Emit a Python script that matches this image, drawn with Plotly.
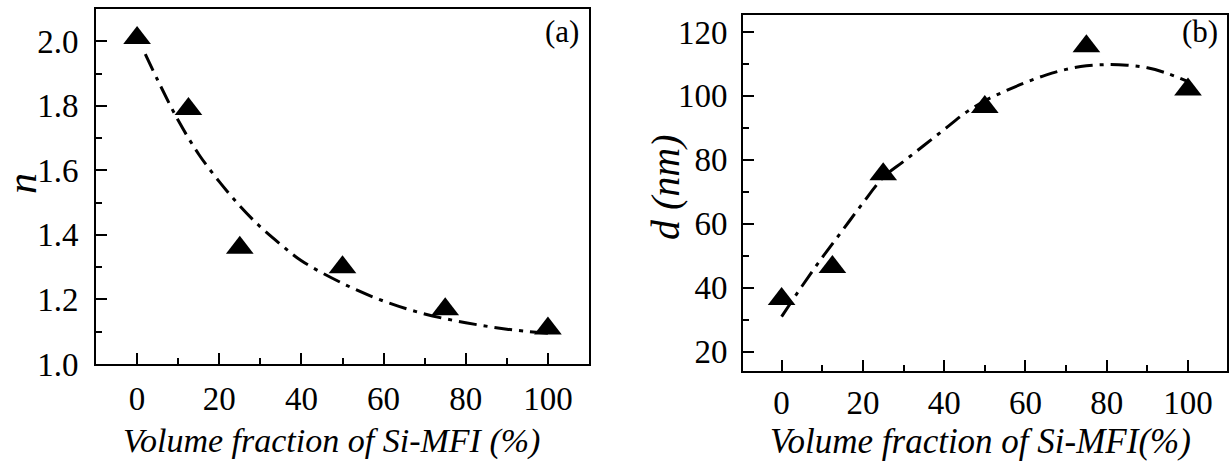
import plotly.graph_objects as go

# ---- data ----
frac_pts = [0, 12.5, 25, 50, 75, 100]
n_vals = [2.01, 1.79, 1.36, 1.30, 1.17, 1.11]
d_vals = [36.5, 46.5, 75.5, 96.5, 115.5, 102.0]

fit_a_x = [2, 5, 10, 15, 20, 25, 30, 35, 40, 50, 60, 70, 80, 90, 100]
fit_a_y = [1.96, 1.88, 1.755, 1.65, 1.565, 1.49, 1.425, 1.37, 1.32, 1.25, 1.195, 1.155, 1.128, 1.108, 1.095]

fit_b_x = [0, 5, 10, 15, 20, 25, 30, 35, 40, 45, 50, 55, 60, 65, 70, 75, 80, 85, 90, 95, 100]
fit_b_y = [31, 40.5, 49.5, 58, 66.5, 74.5, 79.5, 84.5, 89.5, 94.5, 98.5, 101.5, 104.2, 106.5, 108.3, 109.4, 109.8, 109.6, 108.8, 107.0, 104.5]

x_ticks = [0, 20, 40, 60, 80, 100]
n_ticks = [1.0, 1.2, 1.4, 1.6, 1.8, 2.0]
d_ticks = [20, 40, 60, 80, 100, 120]

W, H = 1229, 461
SERIF = "Liberation Serif"
DASH = "18px,7px,4px,7px"

fig = go.Figure()

fig.add_trace(go.Scatter(x=fit_a_x, y=fit_a_y, mode="lines", line=dict(color="black", width=3, dash=DASH, shape="spline"),
                         xaxis="x", yaxis="y", showlegend=False, hoverinfo="skip"))
fig.add_trace(go.Scatter(x=frac_pts, y=n_vals, mode="markers",
                         marker=dict(symbol="triangle-up", size=24, color="black"),
                         xaxis="x", yaxis="y", showlegend=False))
fig.add_trace(go.Scatter(x=fit_b_x, y=fit_b_y, mode="lines", line=dict(color="black", width=3, dash=DASH, shape="spline"),
                         xaxis="x2", yaxis="y2", showlegend=False, hoverinfo="skip"))
fig.add_trace(go.Scatter(x=frac_pts, y=d_vals, mode="markers",
                         marker=dict(symbol="triangle-up", size=24, color="black"),
                         xaxis="x2", yaxis="y2", showlegend=False))

def px_x(p):
    return p / W

def px_y(p):
    return (H - p) / H

axis_common = dict(showline=True, linecolor="black", linewidth=2, mirror=True,
                   ticks="inside", ticklen=11, tickwidth=2, tickcolor="black",
                   showgrid=False, zeroline=False, automargin=False,
                   tickfont=dict(family=SERIF, size=33, color="black"))

fig.update_layout(
    width=W, height=H,
    margin=dict(l=0, r=0, t=0, b=0, autoexpand=False),
    paper_bgcolor="white", plot_bgcolor="white",
    font=dict(family=SERIF, color="black"),
    xaxis=dict(domain=[px_x(96), px_x(589)], range=[-10, 110], tickvals=x_ticks, anchor="y", ticklabelstandoff=4,
               minor=dict(ticks="inside", ticklen=6, tickwidth=2, dtick=10, tick0=0, tickcolor="black"),
               **axis_common),
    yaxis=dict(domain=[px_y(364), px_y(9)], range=[1.0, 2.1], tickvals=n_ticks, tickformat=".1f", anchor="x", ticklabelstandoff=9,
               minor=dict(ticks="inside", ticklen=6, tickwidth=2, dtick=0.1, tick0=1.0, tickcolor="black"),
               **axis_common),
    xaxis2=dict(domain=[px_x(743), px_x(1227)], range=[-9.5, 109.6], tickvals=x_ticks, anchor="y2", ticklabelstandoff=1,
                minor=dict(ticks="inside", ticklen=6, tickwidth=2, dtick=10, tick0=0, tickcolor="black"),
                **axis_common),
    yaxis2=dict(domain=[px_y(371), px_y(15)], range=[14, 125.3], tickvals=d_ticks, anchor="x2", ticklabelstandoff=7,
                minor=dict(ticks="inside", ticklen=6, tickwidth=2, dtick=10, tick0=0, tickcolor="black"),
                **axis_common),
)

ann = [
    dict(text="<i>Volume fraction of Si-MFI (%)</i>", x=px_x(332), y=px_y(441), font=dict(family=SERIF, size=34, color="black")),
    dict(text="<i>Volume fraction of Si-MFI(%)</i>", x=px_x(980), y=px_y(441), font=dict(family=SERIF, size=35, color="black")),
    dict(text="<i>n</i>", x=px_x(22), y=px_y(184), textangle=-90, font=dict(family=SERIF, size=42, color="black")),
    dict(text="<i>d (nm)</i>", x=px_x(665), y=px_y(187), textangle=-90, font=dict(family=SERIF, size=40, color="black")),
    dict(text="(a)", x=px_x(562), y=px_y(32), font=dict(family=SERIF, size=31, color="black")),
    dict(text="(b)", x=px_x(1200), y=px_y(32), font=dict(family=SERIF, size=31, color="black")),
]
for a in ann:
    fig.add_annotation(xref="paper", yref="paper", showarrow=False, xanchor="center", yanchor="middle", **a)

fig.write_html("out.html", config={"displayModeBar": False},
               post_script="document.body.style.margin='0';document.body.style.overflow='hidden';")
